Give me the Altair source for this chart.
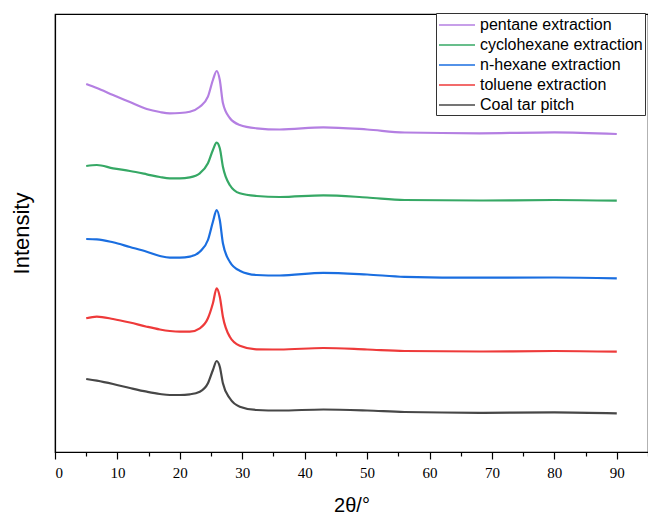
import altair as alt
import pandas as pd

two_theta = [5, 6.7, 9.3, 12, 14.7, 16.8, 18.4, 20, 21.6, 23.2, 24.5, 25.3, 25.9,
             26.4, 26.9, 28, 29.6, 32.3, 36, 43, 50, 56, 68, 80, 90]

pentane = [368, 364, 357, 350, 343, 340, 338.7, 339, 340.3, 345.3, 355.3, 372, 381,
           372, 349, 334, 327, 323.7, 322.5, 324.7, 322.5, 319.5, 318.7, 319.7, 318]
cyclohexane = [286, 287, 283.7, 281, 277.7, 275, 273.7, 273.7, 274.7, 278.7, 288.7, 302, 309.3,
               303.7, 285.3, 267, 258.7, 256, 255, 256.7, 254.5, 252, 251.5, 252, 251.3]
n_hexane = [213, 212.7, 209.7, 205, 200.3, 196, 194.3, 194.3, 195.3, 200.3, 212, 230.3, 242,
            232, 208.7, 190.3, 181.3, 177, 176.5, 179.2, 177.5, 175.2, 174.3, 174.5, 173.7]
toluene = [133.7, 135.3, 133, 129.5, 125.3, 122.5, 121, 120.3, 120.3, 123.7, 133.7, 148.7, 163.7,
           155.3, 135.3, 115.3, 106.3, 102.7, 102.5, 104, 102.5, 101, 100.5, 101, 100.3]
coal_tar = [73, 71.3, 68, 64, 60.3, 58, 57, 57, 57.7, 60.3, 68.7, 82, 91,
            85.3, 68.7, 53.7, 45.3, 42, 41.5, 42.5, 41.5, 40, 39.2, 39.7, 38.7]

series_names = ["pentane extraction", "cyclohexane extraction", "n-hexane extraction",
                "toluene extraction", "Coal tar pitch"]
series_values = [pentane, cyclohexane, n_hexane, toluene, coal_tar]
series_colors = ["#b47fe2", "#36a865", "#1a6ee0", "#ee3a3a", "#474747"]

rows = []
for name, vals in zip(series_names, series_values):
    for x, y in zip(two_theta, vals):
        rows.append({"two_theta": x, "intensity": y, "sample": name})
df = pd.DataFrame(rows)

chart = alt.Chart(df).mark_line(strokeWidth=2.2, interpolate="monotone").encode(
    x=alt.X("two_theta:Q",
            scale=alt.Scale(domain=[0, 95], nice=False, zero=False),
            axis=alt.Axis(title="2θ/°", values=list(range(0, 96, 5)),
                          labelExpr="datum.value % 10 === 0 && datum.value <= 90 ? datum.label : ''",
                          tickSize={"condition": {"test": "datum.value % 10 === 0", "value": 7}, "value": 4},
                          tickColor="black", domainColor="black", tickWidth=1.2, domainWidth=1.2,
                          labelFont="Liberation Serif", labelFontSize=15, labelColor="black",
                          labelPadding=6, grid=False,
                          titleFont="Liberation Sans", titleFontSize=20, titleFontWeight="normal",
                          titleColor="black", titlePadding=15)),
    y=alt.Y("intensity:Q",
            scale=alt.Scale(domain=[0, 438], nice=False, zero=False),
            axis=alt.Axis(title="Intensity", labels=False, ticks=False, grid=False,
                          domainColor="black", domainWidth=1.2,
                          titleFont="Liberation Sans", titleFontSize=22, titleFontWeight="normal",
                          titleColor="black", titlePadding=22)),
    color=alt.Color("sample:N",
                    scale=alt.Scale(domain=series_names, range=series_colors),
                    legend=alt.Legend(title=None, orient="none", legendX=381, legendY=-1,
                                      symbolType="M-1,0H3", symbolSize=324, symbolStrokeWidth=1.5,
                                      labelFont="Liberation Sans", labelFontSize=16,
                                      labelColor="black", labelOffset=22, rowPadding=2,
                                      padding=2, strokeColor="#333", fillColor="white",
                                      labelLimit=300)),
    order=alt.Order("two_theta:Q"),
).properties(
    width=593, height=438,
    autosize=alt.AutoSizeParams(type="none"),
    padding={"left": 55, "top": 14, "right": 0, "bottom": 62},
).configure_view(
    stroke="black", strokeWidth=1.2
)

chart.save("out.html", embed_options={"renderer": "svg", "actions": False})
